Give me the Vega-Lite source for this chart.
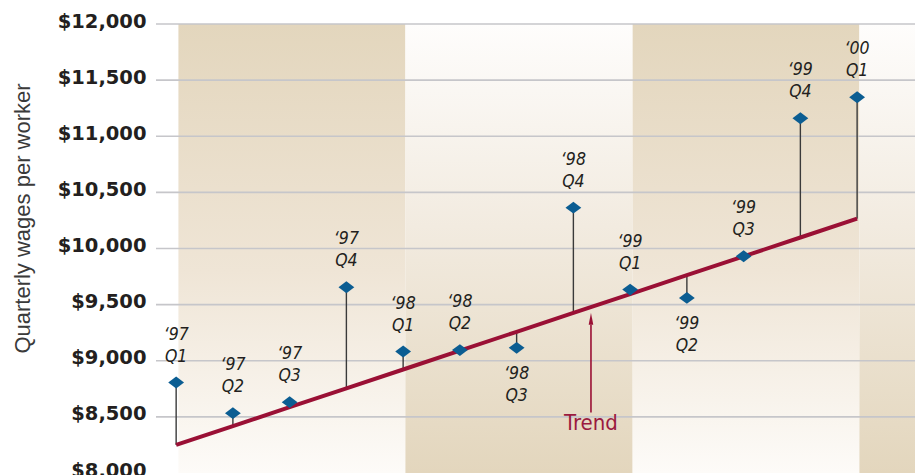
{
  "$schema": "https://vega.github.io/schema/vega-lite/v6.json",
  "width": 759,
  "height": 449,
  "autosize": {"type": "none"},
  "padding": {"left": 156, "top": 24, "right": 4, "bottom": 2},
  "background": "#ffffff",
  "config": {"view": {"stroke": null}},
  "datasets": {
    "wages": [
      {"q": 0, "label": "‘97\nQ1", "wage": 8806, "trend": 8250, "pos": "above"},
      {"q": 1, "label": "‘97\nQ2", "wage": 8533, "trend": 8418, "pos": "above"},
      {"q": 2, "label": "‘97\nQ3", "wage": 8631, "trend": 8586, "pos": "above"},
      {"q": 3, "label": "‘97\nQ4", "wage": 9655, "trend": 8754, "pos": "above"},
      {"q": 4, "label": "‘98\nQ1", "wage": 9082, "trend": 8922, "pos": "above"},
      {"q": 5, "label": "‘98\nQ2", "wage": 9095, "trend": 9090, "pos": "above"},
      {"q": 6, "label": "‘98\nQ3", "wage": 9115, "trend": 9258, "pos": "below"},
      {"q": 7, "label": "‘98\nQ4", "wage": 10364, "trend": 9426, "pos": "above"},
      {"q": 8, "label": "‘99\nQ1", "wage": 9634, "trend": 9594, "pos": "above"},
      {"q": 9, "label": "‘99\nQ2", "wage": 9560, "trend": 9762, "pos": "below"},
      {"q": 10, "label": "‘99\nQ3", "wage": 9931, "trend": 9930, "pos": "above"},
      {"q": 11, "label": "‘99\nQ4", "wage": 11160, "trend": 10098, "pos": "above"},
      {"q": 12, "label": "‘00\nQ1", "wage": 11347, "trend": 10266, "pos": "above"}
    ],
    "bands": [
      {"year": "1997", "start": 0.04, "end": 4.04, "kind": "tanTop"},
      {"year": "1998", "start": 4.04, "end": 8.04, "kind": "tanBottom"},
      {"year": "1999", "start": 8.04, "end": 12.04, "kind": "tanTop"},
      {"year": "2000", "start": 12.04, "end": 13.02, "kind": "tanBottom"}
    ],
    "grid": [{"v": 8500}, {"v": 9000}, {"v": 9500}, {"v": 10000}, {"v": 10500}, {"v": 11000}, {"v": 11500}, {"v": 12000}],
    "note": [{"q": 7.31, "top": 9321, "bottom": 8538, "tip": 9374, "textY": 8380, "text": "Trend"}]
  },
  "encoding": {
    "x": {"type": "quantitative", "scale": {"domain": [-0.355, 13.02], "nice": false, "zero": false}, "axis": null}
  },
  "layer": [
    {
      "data": {"name": "bands"},
      "transform": [{"filter": "datum.kind === 'tanTop'"}],
      "mark": {"type": "rect", "color": {"gradient": "linear", "x1": 0, "y1": 0, "x2": 0, "y2": 1, "stops": [{"offset": 0, "color": "#e3d6bd"}, {"offset": 0.55, "color": "#efe5d6"}, {"offset": 1, "color": "#fdfbf8"}]}},
      "encoding": {
        "x": {"field": "start", "type": "quantitative"},
        "x2": {"field": "end"},
        "y": {"datum": 12000, "type": "quantitative"},
        "y2": {"datum": 8000}
      }
    },
    {
      "data": {"name": "bands"},
      "transform": [{"filter": "datum.kind === 'tanBottom'"}],
      "mark": {"type": "rect", "color": {"gradient": "linear", "x1": 0, "y1": 0, "x2": 0, "y2": 1, "stops": [{"offset": 0, "color": "#fefdfc"}, {"offset": 0.45, "color": "#f2ebe0"}, {"offset": 1, "color": "#e3d6bd"}]}},
      "encoding": {
        "x": {"field": "start", "type": "quantitative"},
        "x2": {"field": "end"},
        "y": {"datum": 12000, "type": "quantitative"},
        "y2": {"datum": 8000}
      }
    },
    {
      "data": {"name": "grid"},
      "mark": {"type": "rule", "color": "#c6c6ca", "strokeWidth": 1.6},
      "encoding": {
        "y": {
          "field": "v",
          "type": "quantitative",
          "scale": {"domain": [8000, 12000], "nice": false, "zero": false},
          "axis": {
            "title": "Quarterly wages per worker",
            "titleFont": "Liberation Sans",
            "titleFontSize": 22,
            "titleFontWeight": "normal",
            "titleColor": "#3a3a3a",
            "titleX": -134,
            "titleY": 194,
            "titleAngle": -90,
            "titleAlign": "center",
            "titleBaseline": "middle",
            "values": [8000, 8500, 9000, 9500, 10000, 10500, 11000, 11500, 12000],
            "format": "$,.0f",
            "labelFont": "DejaVu Sans",
            "labelFontWeight": "bold",
            "labelFontSize": 19.5,
            "labelColor": "#231f20",
            "labelPadding": 10,
            "labelOffset": -3,
            "labelFlush": false,
            "labelOverlap": false,
            "labelBound": false,
            "ticks": false,
            "tickSize": 0,
            "domain": false,
            "grid": false
          }
        }
      }
    },
    {
      "data": {"name": "wages"},
      "mark": {"type": "rule", "color": "#3a3a3a", "strokeWidth": 1.4},
      "encoding": {
        "x": {"field": "q", "type": "quantitative"},
        "y": {"field": "trend", "type": "quantitative"},
        "y2": {"field": "wage"}
      }
    },
    {
      "data": {"name": "wages"},
      "mark": {"type": "line", "color": "#9a1035", "strokeWidth": 4},
      "encoding": {
        "x": {"field": "q", "type": "quantitative"},
        "y": {"field": "trend", "type": "quantitative"}
      }
    },
    {
      "data": {"name": "wages"},
      "mark": {"type": "point", "shape": "M-1,0L0,-0.75L1,0L0,0.75Z", "filled": true, "color": "#0b5d92", "opacity": 1, "size": 250},
      "encoding": {
        "x": {"field": "q", "type": "quantitative"},
        "y": {"field": "wage", "type": "quantitative"}
      }
    },
    {
      "data": {"name": "wages"},
      "transform": [{"filter": "datum.pos === 'above'"}],
      "mark": {"type": "text", "lineBreak": "\n", "lineHeight": 22, "font": "DejaVu Sans Condensed, DejaVu Sans", "fontStyle": "italic", "fontSize": 17.5, "color": "#231f20", "align": "center", "baseline": "bottom", "dy": -39},
      "encoding": {
        "x": {"field": "q", "type": "quantitative"},
        "y": {"field": "wage", "type": "quantitative"},
        "text": {"field": "label"}
      }
    },
    {
      "data": {"name": "wages"},
      "transform": [{"filter": "datum.pos === 'below'"}],
      "mark": {"type": "text", "lineBreak": "\n", "lineHeight": 22, "font": "DejaVu Sans Condensed, DejaVu Sans", "fontStyle": "italic", "fontSize": 17.5, "color": "#231f20", "align": "center", "baseline": "top", "dy": 17},
      "encoding": {
        "x": {"field": "q", "type": "quantitative"},
        "y": {"field": "wage", "type": "quantitative"},
        "text": {"field": "label"}
      }
    },
    {
      "data": {"name": "note"},
      "mark": {"type": "rule", "color": "#9a1035", "strokeWidth": 1.6},
      "encoding": {
        "x": {"field": "q", "type": "quantitative"},
        "y": {"field": "bottom", "type": "quantitative"},
        "y2": {"field": "top"}
      }
    },
    {
      "data": {"name": "note"},
      "mark": {"type": "point", "shape": "M0,-1L0.38,1L-0.38,1Z", "filled": true, "color": "#9a1035", "opacity": 1, "size": 144},
      "encoding": {
        "x": {"field": "q", "type": "quantitative"},
        "y": {"field": "tip", "type": "quantitative"}
      }
    },
    {
      "data": {"name": "note"},
      "mark": {"type": "text", "font": "DejaVu Sans Condensed, DejaVu Sans", "fontSize": 22, "color": "#9a1a40", "align": "center", "baseline": "alphabetic"},
      "encoding": {
        "x": {"field": "q", "type": "quantitative"},
        "y": {"field": "textY", "type": "quantitative"},
        "text": {"field": "text"}
      }
    },
    {
      "mark": {"type": "rule", "color": "#231f20", "strokeWidth": 2.5},
      "encoding": {
        "y": {"datum": 8000, "type": "quantitative"}
      }
    }
  ]
}
